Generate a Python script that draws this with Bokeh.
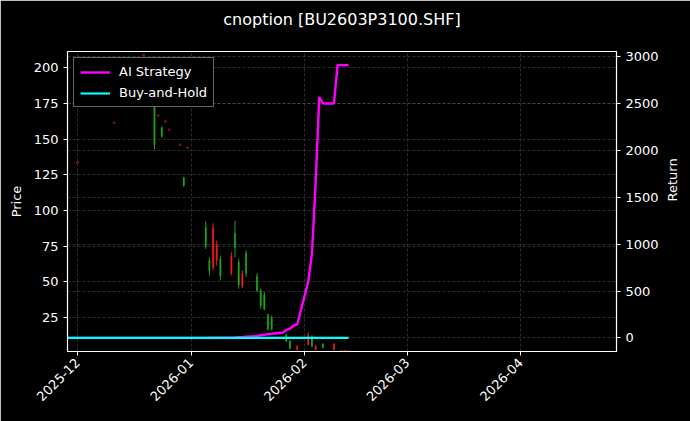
import pandas as pd
from bokeh.plotting import figure
from bokeh.models import (Range1d, LinearAxis, Grid, FixedTicker, Legend, LegendItem,
                          ColumnDataSource, Label)
from bokeh.embed import file_html
from bokeh.resources import INLINE
from math import pi

# ---------------- data ----------------
title_text = "cnoption [BU2603P3100.SHF]"

line_dates = [
    "2025-11-28",
    "2025-12-01", "2025-12-02", "2025-12-03", "2025-12-04", "2025-12-05",
    "2025-12-08", "2025-12-09", "2025-12-10", "2025-12-11", "2025-12-12",
    "2025-12-15", "2025-12-16", "2025-12-17", "2025-12-18", "2025-12-19",
    "2025-12-22", "2025-12-23", "2025-12-24", "2025-12-25", "2025-12-26",
    "2025-12-29", "2025-12-30", "2025-12-31",
    "2026-01-05", "2026-01-06", "2026-01-07", "2026-01-08", "2026-01-09",
    "2026-01-12", "2026-01-13", "2026-01-14", "2026-01-15", "2026-01-16",
    "2026-01-19", "2026-01-20", "2026-01-21", "2026-01-22", "2026-01-23",
    "2026-01-26", "2026-01-27", "2026-01-28", "2026-01-29", "2026-01-30",
    "2026-02-02", "2026-02-03", "2026-02-04", "2026-02-05", "2026-02-06",
    "2026-02-09", "2026-02-10", "2026-02-11", "2026-02-12", "2026-02-13",
]
ai_strategy = [
    0,
    0, 0, 0, 0, 0,
    0, 0, 0, 0, 0,
    0, 0, 0, 0, 0,
    0, 0, 0, 0, 0,
    0, 0, 0,
    0, 1, 1, 2, 2,
    3, 5, 8, 10, 14,
    20, 28, 33, 40, 45,
    55, 85, 100, 130, 145,
    600, 900, 1650, 2570, 2500,
    2500, 2910, 2910, 2910, 2910,
]
buy_and_hold = [
    0,
    0, 0, 0, 0, 0,
    0, 0, 0, 0, 0,
    0, 0, 0, 0, 0,
    0, 0, 0, 0, 0,
    0, 0, 0,
    0, 0, 0, 0, 0,
    0, 0, 0, 0, 0,
    0, 0, 0, 0, 0,
    0, 0, 0, 0, 0,
    0, 0, 0, 0, 0,
    0, 0, 0, 0, 0,
]

candle_dates = [
    "2025-12-01", "2025-12-11", "2025-12-19", "2025-12-22", "2025-12-23",
    "2025-12-24", "2025-12-25", "2025-12-26", "2025-12-29", "2025-12-30",
    "2025-12-31",
    "2026-01-05", "2026-01-06", "2026-01-07", "2026-01-08", "2026-01-09",
    "2026-01-12", "2026-01-13", "2026-01-14", "2026-01-15", "2026-01-16",
    "2026-01-19", "2026-01-20", "2026-01-21", "2026-01-22", "2026-01-23",
    "2026-01-27", "2026-01-28", "2026-01-30",
    "2026-02-02", "2026-02-03", "2026-02-04", "2026-02-06",
    "2026-02-09", "2026-02-11", "2026-02-12", "2026-02-13",
]
c_open = [
    133.6, 161.5, 209.0, 175.0, 166.6,
    158.0, 162.4, 156.6, 146.0, 123.0,
    144.0,
    88.0, 65.0, 60.0, 65.0, 66.0,
    56.0, 84.0, 64.0, 47.0, 70.0,
    54.0, 44.0, 41.0, 27.0, 25.0,
    13.0, 8.5, 2.5,
    6.0, 11.0, 2.5, 6.5,
    2.5, 1.5, 1.5, 1.4,
]
c_high = [
    133.6, 161.5, 209.0, 182.0, 166.6,
    159.0, 162.4, 156.6, 146.0, 123.6,
    144.0,
    92.4, 67.2, 91.0, 78.9, 68.4,
    70.7, 92.9, 66.1, 58.0, 72.0,
    55.9, 45.2, 42.8, 27.7, 26.5,
    14.0, 9.0, 5.6,
    14.7, 12.6, 5.6, 7.0,
    7.0, 1.5, 1.5, 1.4,
]
c_low = [
    133.6, 161.5, 209.0, 143.0, 166.6,
    151.0, 162.4, 156.6, 146.0, 116.6,
    144.0,
    73.1, 54.5, 58.0, 61.5, 51.0,
    54.5, 67.2, 45.2, 45.4, 53.3,
    42.8, 31.2, 30.0, 16.0, 16.0,
    7.7, 2.8, 2.0,
    5.6, 4.2, 2.0, 3.5,
    2.0, 1.5, 1.5, 1.4,
]
c_close = [
    133.6, 161.5, 209.0, 146.0, 166.6,
    152.0, 162.4, 156.6, 146.0, 117.5,
    144.0,
    75.0, 58.0, 88.0, 76.0, 54.0,
    68.0, 74.0, 48.0, 56.0, 56.0,
    44.0, 33.0, 31.0, 17.0, 17.0,
    8.5, 3.5, 5.0,
    13.0, 5.0, 5.0, 4.0,
    6.5, 1.5, 1.5, 1.4,
]

price_ticks = [25, 50, 75, 100, 125, 150, 175, 200]
return_ticks = [0, 500, 1000, 1500, 2000, 2500, 3000]
month_ticks = ["2025-12-01", "2026-01-01", "2026-02-01", "2026-03-01", "2026-04-01"]
month_labels = ["2025-12", "2026-01", "2026-02", "2026-03", "2026-04"]

# ---------------- styles ----------------
FONT = "DejaVu Sans"
UP = "#ee1c1c"
DOWN = "#22a022"
DOJI = "#7a1414"
GRID = "#6a6a6a"
DAY_MS = 86400000
FRAME_W = 549

x_start = pd.Timestamp("2025-11-28 06:00")
x_end = pd.Timestamp("2026-04-27 04:00")

p = figure(width=690, height=421, x_axis_type="datetime",
           x_range=Range1d(x_start, x_end), y_range=Range1d(1.2, 211.4),
           output_backend="svg", toolbar_location=None,
           min_border_left=67, min_border_right=74, min_border_top=51,
           min_border_bottom=70)
p.extra_y_ranges = {"ret": Range1d(-145, 3055)}

p.background_fill_color = "black"
p.border_fill_color = "black"
p.outline_line_color = "white"
p.outline_line_width = 1.2

# title drawn as a label in the panel above the frame
title = Label(x=FRAME_W / 2, y=32, x_units="screen", y_units="screen",
              text=title_text, text_color="white", text_font=FONT,
              text_font_size="16px", text_align="center", text_baseline="middle")
p.add_layout(title, "above")

# grids
p.grid.grid_line_color = None
month_ms = [pd.Timestamp(d).value // 10**6 for d in month_ticks]
xg = Grid(dimension=0, ticker=FixedTicker(ticks=month_ms),
          grid_line_color=GRID, grid_line_dash="3 2", grid_line_width=0.7, grid_line_alpha=0.6)
yg = Grid(dimension=1, ticker=FixedTicker(ticks=price_ticks),
          grid_line_color=GRID, grid_line_dash="3 2", grid_line_width=0.7, grid_line_alpha=0.6)
rg = Grid(dimension=1, ticker=FixedTicker(ticks=return_ticks), y_range_name="ret",
          grid_line_color=GRID, grid_line_dash="3 2", grid_line_width=0.7, grid_line_alpha=0.6)
p.add_layout(xg)
p.add_layout(yg)
p.add_layout(rg)

# candles (red = up, green = down)
cd = pd.to_datetime(candle_dates)
colors = [UP if c >= o else DOWN for o, c in zip(c_open, c_close)]
tops = [max(o, c) for o, c in zip(c_open, c_close)]
bots = [min(o, c) for o, c in zip(c_open, c_close)]
is_doji = [h == l for h, l in zip(c_high, c_low)]

def pick(seq, flag):
    return [v for v, z in zip(seq, is_doji) if z == flag]

src = ColumnDataSource(dict(x=pick(list(cd), False), high=pick(c_high, False),
                            low=pick(c_low, False), top=pick(tops, False),
                            bottom=pick(bots, False), color=pick(colors, False)))
p.segment(x0="x", y0="low", x1="x", y1="high", color="color", line_width=1, source=src)
p.vbar(x="x", width=0.4 * DAY_MS, top="top", bottom="bottom", fill_color="color",
       line_color="color", line_width=0.3, source=src)

dsrc = ColumnDataSource(dict(x=pick(list(cd), True), y=pick(c_close, True)))
p.rect(x="x", y="y", width=0.5 * DAY_MS, height=1.5, height_units="screen",
       color=DOJI, source=dsrc)

# lines
ld = pd.to_datetime(line_dates)
r_ai = p.line(ld, ai_strategy, y_range_name="ret", color="#ff00ff", line_width=2.4)
r_bh = p.line(ld, buy_and_hold, y_range_name="ret", color="#00ffff", line_width=2.2)

legend = Legend(items=[LegendItem(label="AI Strategy", renderers=[r_ai]),
                       LegendItem(label="Buy-and-Hold", renderers=[r_bh])],
                location="top_left")
legend.background_fill_color = "black"
legend.background_fill_alpha = 1
legend.border_line_color = "#cccccc"
legend.border_line_width = 1
legend.label_text_color = "white"
legend.label_text_font = FONT
legend.label_text_font_size = "13px"
legend.glyph_width = 30
legend.glyph_height = 14
legend.label_standoff = 9
legend.spacing = 6
legend.padding = 6
legend.margin = 6
p.add_layout(legend)

# axes
def style_axis(ax):
    ax.axis_line_color = "white"
    ax.major_tick_line_color = "white"
    ax.minor_tick_line_color = None
    ax.major_tick_out = 4
    ax.major_tick_in = 0
    ax.major_label_text_color = "white"
    ax.major_label_text_font = FONT
    ax.major_label_text_font_size = "13px"
    ax.axis_label_text_color = "white"
    ax.axis_label_text_font = FONT
    ax.axis_label_text_font_size = "13px"
    ax.axis_label_text_font_style = "normal"

yl = p.yaxis[0]
yl.ticker = FixedTicker(ticks=price_ticks)
yl.axis_label = "Price"
yl.axis_label_standoff = 7
style_axis(yl)

xa = p.xaxis[0]
xa.ticker = FixedTicker(ticks=month_ms)
xa.major_label_overrides = {m: lab for m, lab in zip(month_ms, month_labels)}
xa.major_label_orientation = pi / 4
style_axis(xa)

yr = LinearAxis(y_range_name="ret", axis_label="Return", ticker=FixedTicker(ticks=return_ticks))
style_axis(yr)
yr.axis_label_orientation = pi / 2
yr.axis_label_standoff = 11
p.add_layout(yr, "right")

open("out.html", "w").write(file_html(p, INLINE))
